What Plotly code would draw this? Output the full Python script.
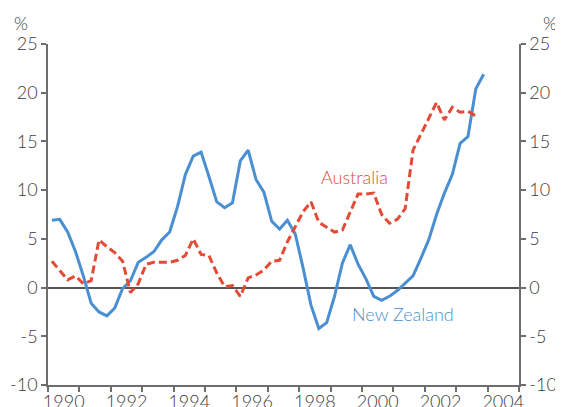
import plotly.graph_objects as go

# Quarterly data, 1990 Q1 onwards (per cent)
nz_values = [6.9, 7.0, 5.7, 3.7, 1.2, -1.6, -2.5, -2.9, -2.1, -0.1,
             0.7, 2.6, 3.1, 3.7, 4.9, 5.7, 8.3, 11.6, 13.5, 13.9,
             11.4, 8.8, 8.2, 8.7, 13.0, 14.1, 11.1, 9.8, 6.8, 6.0,
             6.9, 5.5, 2.0, -1.8, -4.2, -3.6, -0.9, 2.5, 4.4, 2.4,
             0.9, -0.9, -1.3, -0.9, -0.3, 0.5, 1.2, 3.0, 4.9, 7.5,
             9.7, 11.6, 14.8, 15.5, 20.4, 21.9]
aus_values = [2.7, 1.8, 0.8, 1.2, 0.4, 0.7, 4.9, 4.2, 3.6, 2.7,
              -0.5, 0.4, 2.4, 2.6, 2.6, 2.6, 2.8, 3.3, 5.0, 3.4,
              3.3, 1.5, 0.1, 0.2, -0.9, 1.0, 1.3, 1.8, 2.7, 2.8,
              4.7, 6.3, 7.8, 8.8, 6.7, 6.2, 5.7, 5.9, 7.7, 9.6,
              9.6, 9.7, 7.5, 6.6, 7.0, 8.1, 14.1, 15.7, 17.4, 19.0,
              17.2, 18.5, 18.0, 18.1, 17.6]
start_year = 1990
year_labels = ["1990", "1992", "1994", "1996", "1998", "2000", "2002", "2004"]
y_ticks = [-10, -5, 0, 5, 10, 15, 20, 25]
y_tick_labels = ["-10", "-5", "0", "5", "10", "15", "20", "25"]

def quarter_x(n):
    # plot each quarter at its mid-point
    return [start_year + (i + 0.5) / 4 for i in range(n)]

BLUE = "#4a8fd1"
RED = "#e34b37"
TXT = "#3a3a3a"
AX = "#6e6e6e"
FONT = "Lato"

fig = go.Figure()
fig.add_trace(go.Scatter(x=quarter_x(len(nz_values)), y=nz_values, mode="lines",
                         line=dict(color=BLUE, width=3), name="New Zealand",
                         showlegend=False))
fig.add_trace(go.Scatter(x=quarter_x(len(aus_values)), y=aus_values, mode="lines",
                         line=dict(color=RED, width=3, dash="8px,4px"), name="Australia",
                         showlegend=False))
# invisible trace for the right axis
fig.add_trace(go.Scatter(x=[start_year], y=[0], yaxis="y2", mode="markers",
                         marker=dict(opacity=0), showlegend=False, hoverinfo="skip"))

fig.update_layout(
    width=563, height=407,
    margin=dict(l=40, r=52, t=36, b=30),
    paper_bgcolor="white", plot_bgcolor="white",
    font=dict(family=FONT, size=18, color=TXT, weight=300),
    xaxis=dict(
        range=[1990, 2005], showgrid=False, zeroline=False, automargin=False,
        showline=True, linecolor=AX, linewidth=1.5,
        tickmode="array",
        tickvals=[int(s) + 0.5 for s in year_labels], ticktext=year_labels,
        ticks="", tickfont=dict(size=18, color=TXT),
        minor=dict(tickmode="linear", tick0=1990, dtick=1, ticks="outside",
                   ticklen=5, tickcolor=AX, tickwidth=1.5, showgrid=False),
    ),
    yaxis=dict(
        range=[-10, 25], tickmode="array", tickvals=y_ticks, ticktext=y_tick_labels,
        automargin=False,
        showgrid=False, zeroline=True, zerolinecolor="#555555", zerolinewidth=1.5,
        showline=True, linecolor=AX, linewidth=1.5,
        ticks="outside", ticklen=5, tickcolor=AX, tickwidth=1.5,
        tickfont=dict(size=18, color=TXT),
    ),
    yaxis2=dict(
        range=[-10, 25], tickmode="array", tickvals=y_ticks, ticktext=y_tick_labels,
        automargin=False,
        overlaying="y", side="right", showgrid=False, zeroline=False,
        showline=True, linecolor=AX, linewidth=1.5,
        ticks="outside", ticklen=5, tickcolor=AX, tickwidth=1.5,
        tickfont=dict(size=18, color=TXT),
    ),
    annotations=[
        dict(text="%", xref="paper", yref="paper", x=-0.058, y=1.0, yshift=21,
             xanchor="center", yanchor="middle", showarrow=False,
             font=dict(size=18, color=TXT)),
        dict(text="%", xref="paper", yref="paper", x=1.066, y=1.0, yshift=21,
             xanchor="center", yanchor="middle", showarrow=False,
             font=dict(size=18, color=TXT)),
        dict(text="Australia", x=1999.75, y=11.4, xref="x", yref="y",
             showarrow=False, font=dict(size=18, color=RED)),
        dict(text="New Zealand", x=2001.3, y=-2.7, xref="x", yref="y",
             showarrow=False, font=dict(size=18, color=BLUE)),
    ],
)

fig.write_html("out.html")
